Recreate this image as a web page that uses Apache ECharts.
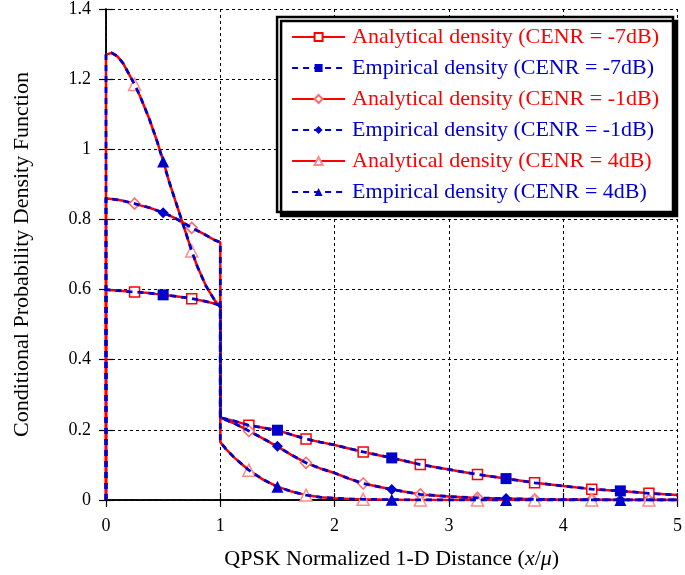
<!DOCTYPE html>
<html>
<head>
<meta charset="utf-8">
<script src="https://cdn.jsdelivr.net/npm/echarts@6/dist/echarts.min.js"></script>
<style>html,body{margin:0;padding:0;background:#fff}#c{width:685px;height:575px}</style>
</head>
<body>
<div id="c"></div>
<script>
// ---- data ----
const XS = [0, 0, 0.05, 0.1, 0.15, 0.2, 0.25, 0.3, 0.375, 0.45, 0.5, 0.55, 0.625, 0.7, 0.75, 0.8, 0.875, 0.95, 1,
            1, 1.05, 1.125, 1.25, 1.375, 1.5, 1.625, 1.75, 1.875, 2, 2.125, 2.25, 2.5, 2.75, 3, 3.25, 3.5, 3.75, 4, 4.25, 4.5, 4.75, 5];
const ANA_M7 = [0, 0.60, 0.598, 0.597, 0.596, 0.594, 0.593, 0.592, 0.590, 0.587, 0.585, 0.583, 0.580, 0.577, 0.574, 0.571, 0.566, 0.560, 0.555,
                0.235, 0.231, 0.225, 0.213, 0.206, 0.199, 0.186, 0.174, 0.165, 0.157, 0.147, 0.137, 0.120, 0.101, 0.087, 0.073, 0.061, 0.049, 0.040, 0.031, 0.026, 0.019, 0.014];
const EMP_M7 = [0, 0.60, 0.598, 0.597, 0.596, 0.594, 0.593, 0.592, 0.590, 0.587, 0.585, 0.583, 0.580, 0.577, 0.574, 0.571, 0.566, 0.560, 0.555,
                0.235, 0.231, 0.225, 0.213, 0.206, 0.199, 0.186, 0.174, 0.165, 0.157, 0.147, 0.137, 0.120, 0.101, 0.087, 0.073, 0.061, 0.049, 0.040, 0.031, 0.026, 0.019, 0.014];
const ANA_M1 = [0, 0.86, 0.858, 0.856, 0.853, 0.849, 0.845, 0.840, 0.834, 0.825, 0.819, 0.812, 0.800, 0.786, 0.776, 0.768, 0.755, 0.741, 0.735,
                0.235, 0.228, 0.218, 0.197, 0.175, 0.152, 0.128, 0.106, 0.090, 0.077, 0.061, 0.047, 0.030, 0.016, 0.010, 0.006, 0.004, 0.002, 0.001, 0.001, 0, 0, 0];
const EMP_M1 = [0, 0.86, 0.858, 0.856, 0.853, 0.849, 0.845, 0.840, 0.834, 0.825, 0.819, 0.812, 0.800, 0.786, 0.776, 0.768, 0.755, 0.741, 0.735,
                0.235, 0.228, 0.218, 0.197, 0.175, 0.153, 0.128, 0.106, 0.090, 0.077, 0.061, 0.047, 0.030, 0.016, 0.010, 0.006, 0.004, 0.002, 0.001, 0.001, 0, 0, 0];
const ANA_P4 = [0, 1.27, 1.275, 1.265, 1.245, 1.215, 1.185, 1.15, 1.09, 1.02, 0.968, 0.91, 0.835, 0.76, 0.71, 0.665, 0.61, 0.57, 0.55,
                0.165, 0.145, 0.12, 0.085, 0.058, 0.038, 0.024, 0.014, 0.008, 0.005, 0.003, 0.002, 0.001, 0, 0, 0, 0, 0, 0, 0, 0, 0, 0];
const EMP_P4 = [0, 1.27, 1.275, 1.265, 1.245, 1.215, 1.185, 1.15, 1.09, 1.02, 0.965, 0.91, 0.835, 0.76, 0.71, 0.665, 0.61, 0.57, 0.55,
                0.165, 0.145, 0.12, 0.085, 0.058, 0.038, 0.024, 0.014, 0.008, 0.005, 0.003, 0.002, 0.001, 0, 0, 0, 0, 0, 0, 0, 0, 0, 0];
const ANA_MARK_X = [0.25, 0.75, 1.25, 1.75, 2.25, 2.75, 3.25, 3.75, 4.25, 4.75];
const EMP_MARK_X = [0.5, 1.5, 2.5, 3.5, 4.5];
const NAMES = [
  'Analytical density (CENR = -7dB)',
  'Empirical density (CENR = -7dB)',
  'Analytical density (CENR = -1dB)',
  'Empirical density (CENR = -1dB)',
  'Analytical density (CENR = 4dB)',
  'Empirical density (CENR = 4dB)'
];
const X_TICKS = [0, 1, 2, 3, 4, 5];
const Y_TICKS = [0, 0.2, 0.4, 0.6, 0.8, 1, 1.2, 1.4];

// ---- chart ----
const FONT = "'Liberation Serif','Times New Roman',serif";
const RED = '#ff0000', BLUE = '#0000cc';
function pts(ys) { return XS.map((x, i) => [x, ys[i]]); }

function ana(name, ys, symbol, border, size) {
  return {
    name, type: 'line', data: pts(ys), symbol, z: 2,
    symbolSize: (v) => ANA_MARK_X.indexOf(v[0]) >= 0 ? size : 0,
    lineStyle: { color: RED, width: 2.5, type: 'solid' },
    itemStyle: { color: '#ffffff', borderColor: border, borderWidth: 1.5 },
    emphasis: { disabled: true }, animation: false
  };
}
function emp(name, ys, symbol, size) {
  return {
    name, type: 'line', data: pts(ys), symbol, z: 3,
    symbolSize: (v) => EMP_MARK_X.indexOf(v[0]) >= 0 ? size : 0,
    lineStyle: { color: BLUE, width: 2.8, type: [6, 5] },
    itemStyle: { color: BLUE, borderColor: BLUE, borderWidth: 0 },
    emphasis: { disabled: true }, animation: false
  };
}

const series = [
  ana(NAMES[0], ANA_M7, 'rect', RED, 10),
  emp(NAMES[1], EMP_M7, 'rect', 11),
  ana(NAMES[2], ANA_M1, 'diamond', '#ff6a6a', 11),
  emp(NAMES[3], EMP_M1, 'diamond', 11),
  ana(NAMES[4], ANA_P4, 'triangle', '#ff8a8a', 12),
  emp(NAMES[5], EMP_P4, 'triangle', 12)
];

const chart = echarts.init(document.getElementById('c'), null, { renderer: 'canvas' });
chart.setOption({
  backgroundColor: '#fff',
  animation: false,
  textStyle: { fontFamily: FONT },
  grid: { left: 106, right: 4, top: 7, bottom: 75, containLabel: false },
  xAxis: [{
    type: 'value', min: 0, max: 5, interval: 1, position: 'bottom',
    axisLine: { show: true, onZero: false, lineStyle: { color: '#000', width: 1.5 } },
    axisTick: { show: true, inside: true, length: 7, lineStyle: { color: '#000', width: 1.2 } },
    axisLabel: { color: '#000', fontSize: 18, fontFamily: FONT, margin: 17,
      formatter: (v) => X_TICKS.indexOf(v) >= 0 ? String(v) : '' },
    splitLine: { show: true, lineStyle: { color: '#000', width: 1, type: [3, 3] } },
    name: '{n|QPSK Normalized 1-D Distance (}{i|x}{n|/}{i|\u03bc}{n|)}',
    nameLocation: 'middle', nameGap: 48,
    nameTextStyle: { rich: {
      n: { fontSize: 22, fontFamily: FONT, color: '#000' },
      i: { fontSize: 22, fontFamily: FONT, fontStyle: 'italic', color: '#000' }
    } }
  }, {
    type: 'value', min: 0, max: 5, interval: 1, position: 'top',
    axisLine: { show: true, lineStyle: { color: '#000', width: 1.5 } },
    axisTick: { show: true, inside: true, length: 7, lineStyle: { color: '#000', width: 1.2 } },
    axisLabel: { show: false }, splitLine: { show: false }
  }],
  yAxis: [{
    type: 'value', min: 0, max: 1.4, interval: 0.2, position: 'left',
    axisLine: { show: true, onZero: false, lineStyle: { color: '#000', width: 1.5 } },
    axisTick: { show: true, inside: true, length: 7, lineStyle: { color: '#000', width: 1.2 } },
    axisLabel: { color: '#000', fontSize: 18, fontFamily: FONT, margin: 15,
      formatter: (v) => { const t = Y_TICKS.find(k => Math.abs(k - v) < 1e-9); return t === undefined ? '' : String(t); } },
    splitLine: { show: true, lineStyle: { color: '#000', width: 1, type: [3, 3] } },
    name: 'Conditional Probability Density Function',
    nameLocation: 'middle', nameGap: 73,
    nameTextStyle: { fontSize: 22, fontFamily: FONT, color: '#000' }
  }, {
    type: 'value', min: 0, max: 1.4, interval: 0.2, position: 'right',
    axisLine: { show: true, lineStyle: { color: '#000', width: 1.5 } },
    axisTick: { show: true, inside: true, length: 7, lineStyle: { color: '#000', width: 1.2 } },
    axisLabel: { show: false }, splitLine: { show: false }
  }],
  legend: {
    orient: 'vertical', right: 12, top: 17,
    padding: [9, 14, 9, 14],
    itemWidth: 53, itemHeight: 10, itemGap: 9,
    backgroundColor: '#fff', borderColor: '#000', borderWidth: 2.5,
    shadowColor: '#000', shadowBlur: 0, shadowOffsetX: 4, shadowOffsetY: 4,
    textStyle: { fontSize: 22, fontFamily: FONT, padding: [0, 0, 0, 2] },
    data: NAMES.map((n, i) => ({ name: n, textStyle: { color: i % 2 === 0 ? RED : BLUE } }))
  },
  series
});
</script>
</body>
</html>
